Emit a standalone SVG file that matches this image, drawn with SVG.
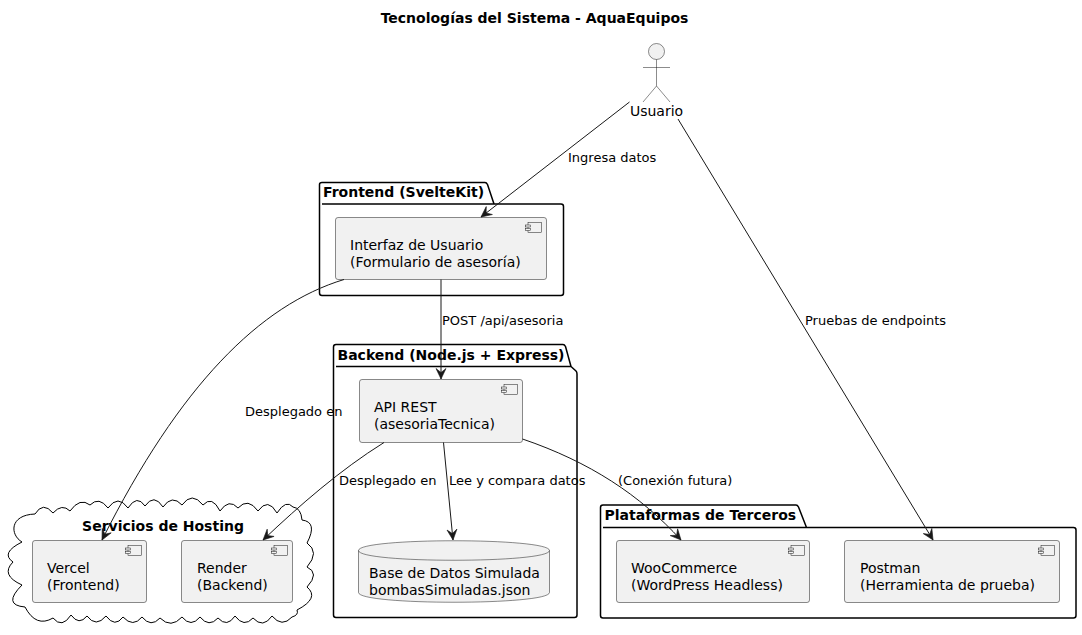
<svg xmlns="http://www.w3.org/2000/svg" width="1082" height="635" viewBox="0 0 1082 635">
<style>
text{font-family:"DejaVu Sans",sans-serif;fill:#000}
.t{font-size:14px}
.e{font-size:13px}
.b{font-size:14px;font-weight:bold}
.p{fill:none;stroke:#000;stroke-width:1.5;stroke-linejoin:round}
.c{fill:#F1F1F1;stroke:#181818;stroke-width:.5}
.i{fill:#F1F1F1;stroke:#181818;stroke-width:.5}
.l{fill:none;stroke:#181818;stroke-width:1;marker-end:url(#a)}
</style>
<defs>
<marker id="a" markerUnits="userSpaceOnUse" markerWidth="16" markerHeight="14" refX="11.5" refY="7" orient="auto">
<path d="M1,2 L11.5,7 L1,12 L5,7 Z" fill="#181818" stroke="#181818" stroke-width=".6" stroke-linejoin="round"/>
</marker>
<g id="ic">
<rect class="i" x="-18.5" y="5" width="13.5" height="10"/>
<rect class="i" x="-21" y="7.5" width="5" height="2"/>
<rect class="i" x="-21" y="11" width="5" height="2"/>
</g>
</defs>
<text x="534.5" y="23" text-anchor="middle" class="b">Tecnologías del Sistema - AquaEquipos</text>

<g id="frontend">
<path class="p" d="M322,204 H561 Q563.5,204 563.5,206.5 V293 Q563.5,295.5 561,295.5 H322 Q319.5,295.5 319.5,293 V184.5 Q319.5,182.5 322,182.5 H485 Q486.5,182.5 487.5,184.5 L494,204"/>
<text x="323" y="197" class="b">Frontend (SvelteKit)</text>
</g>
<g id="interfaz">
<rect class="c" x="335.5" y="217.5" width="211" height="62" rx="2.5"/>
<use href="#ic" x="546.5" y="217.5"/>
<text x="350" y="250" class="t">Interfaz de Usuario</text>
<text x="350" y="267" class="t">(Formulario de asesoría)</text>
</g>

<g id="backend">
<path class="p" d="M336,366.5 H571 L576,371 Q577,372 577,374 V615 Q577,617.5 574.5,617.5 H336 Q333.5,617.5 333.5,615 V347 Q333.5,344.5 336,344.5 H563 Q564.5,344.5 565.5,346.5 L571,366.5"/>
<text x="337.5" y="360" class="b">Backend (Node.js + Express)</text>
</g>
<g id="api">
<rect class="c" x="359.5" y="379.5" width="163" height="63" rx="2.5"/>
<use href="#ic" x="522.5" y="379.5"/>
<text x="374" y="412" class="t">API REST</text>
<text x="374" y="429" class="t">(asesoriaTecnica)</text>
</g>
<g id="db">
<path class="c" d="M358.5,550.5 C358.5,537.5 549.5,537.5 549.5,550.5 V592.5 C549.5,605.5 358.5,605.5 358.5,592.5 Z"/>
<path class="c" style="fill:none" d="M358.5,550.5 C358.5,563.5 549.5,563.5 549.5,550.5"/>
<text x="369" y="578" class="t">Base de Datos Simulada</text>
<text x="369" y="595" class="t">bombasSimuladas.json</text>
</g>

<g id="hosting">
<path fill="#fff" stroke="#000" stroke-width="1" stroke-linejoin="round" d="M22,542 C10,535 9,515 35,514 Q43,501 53,513 Q62,503 70,511 Q80,497 90,505 Q99,496 108,508 Q118,494 128,508 Q137,494 145,506 Q154,493 163,507 Q172,494 182,505 Q192,491 203,505 Q212,495 220,511 Q229,498 238,508 Q248,497 258,511 Q268,497 277,513 Q286,499 293,507 Q301,508 302,520 Q318,522 307,543 Q320,552 307,567 Q320,573 307,587 Q320,598 297,610 Q299,615 292,617 Q282,628 272,616 Q263,629 253,618 Q244,628 235,616 Q227,628 218,618 Q209,628 200,617 Q191,628 182,617 Q171,629 160,618 Q151,628 142,617 Q133,628 123,617 Q115,628 106,616 Q96,628 87,616 Q79,626 71,615 Q62,629 53,618 Q36,628 25,607 Q2,605 22,585 Q0,575 13,562 Q0,553 22,542 Z"/>
<text x="163" y="531" text-anchor="middle" class="b">Servicios de Hosting</text>
</g>
<g id="vercel">
<rect class="c" x="32.5" y="540.5" width="114" height="62" rx="2.5"/>
<use href="#ic" x="146.5" y="540.5"/>
<text x="47" y="573" class="t">Vercel</text>
<text x="47" y="590" class="t">(Frontend)</text>
</g>
<g id="render">
<rect class="c" x="181.5" y="540.5" width="111" height="62" rx="2.5"/>
<use href="#ic" x="292.5" y="540.5"/>
<text x="197" y="573" class="t">Render</text>
<text x="197" y="590" class="t">(Backend)</text>
</g>

<g id="terceros">
<path class="p" d="M603,527.5 H1073.5 Q1076,527.5 1076,530 V615.5 Q1076,618 1073.5,618 H603 Q600.5,618 600.5,615.5 V507.5 Q600.5,505 603,505 H796 Q797.5,505 798.5,507 L806.5,527.5"/>
<text x="604.5" y="520" class="b">Plataformas de Terceros</text>
</g>
<g id="woocommerce">
<rect class="c" x="616.5" y="540.5" width="193" height="62" rx="2.5"/>
<use href="#ic" x="809.5" y="540.5"/>
<text x="631" y="573" class="t">WooCommerce</text>
<text x="631" y="590" class="t">(WordPress Headless)</text>
</g>
<g id="postman">
<rect class="c" x="844.5" y="540.5" width="215" height="62" rx="2.5"/>
<use href="#ic" x="1059.5" y="540.5"/>
<text x="860" y="573" class="t">Postman</text>
<text x="860" y="590" class="t">(Herramienta de prueba)</text>
</g>

<g id="usuario">
<circle cx="656.5" cy="51.5" r="8" fill="#F1F1F1" stroke="#181818" stroke-width=".5"/>
<path fill="none" stroke="#181818" stroke-width=".5" d="M656.5,59.5 V86 M643,67.5 H670 M643,102 L656.5,86 L670,102"/>
<text x="656.5" y="116" text-anchor="middle" class="t">Usuario</text>
</g>

<g id="connectors">
<path class="l" d="M629.5,102 L481,217"/>
<path class="l" d="M678,119 L933,540"/>
<path class="l" d="M441,279.5 V379"/>
<path class="l" d="M344,279.5 C260,305 180,385 102,540"/>
<path class="l" d="M384,442.5 C340,470 300,505 263,540"/>
<path class="l" d="M443.5,442.5 L453,540"/>
<path class="l" d="M522.5,439 C590,462 640,495 681,540"/>
<text x="568" y="162" class="e">Ingresa datos</text>
<text x="442" y="325" class="e">POST /api/asesoria</text>
<text x="805" y="325" class="e">Pruebas de endpoints</text>
<text x="245" y="416" class="e">Desplegado en</text>
<text x="339" y="485" class="e">Desplegado en</text>
<text x="449" y="485" class="e">Lee y compara datos</text>
<text x="618" y="485" class="e">(Conexión futura)</text>
</g>
</svg>
